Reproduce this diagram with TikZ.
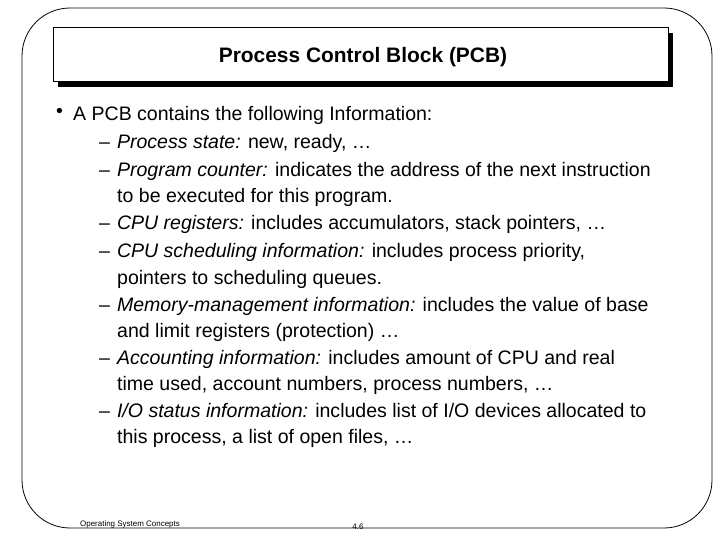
\documentclass[tikz,border=0pt]{standalone}
\usepackage{fontspec}
\setmainfont{Liberation Sans}
\begin{document}
\begin{tikzpicture}[x=1bp,y=-1bp,
  txt/.style={anchor=west,inner sep=0pt,font=\fontsize{19.6}{22}\selectfont},
  foot/.style={anchor=center,inner sep=0pt,font=\fontsize{8}{9}\selectfont}]
\useasboundingbox (0,0) rectangle (720,540);
\draw[line width=0.8bp,rounded corners=48bp] (22,8) rectangle (712,528);
\fill[black] (58,33) rectangle (673,87);
\draw[fill=white,line width=0.8bp] (53,27) rectangle (668,81);
\node[inner sep=0pt,font=\bfseries\fontsize{21}{24}\selectfont] (title) at (363,57) {Process Control Block (PCB)};
\node[txt] (b0) at (56,113) {\textbullet};
\node[txt] (l0) at (73,115) {A PCB contains the following Information:};
\foreach \y/\t [count=\i] in {
 143/{\textendash\hspace{7bp}\textit{Process state:} new, ready, \dots},
 171/{\textendash\hspace{7bp}\textit{Program counter:} indicates the address of the next instruction},
 224/{\textendash\hspace{7bp}\textit{CPU registers:} includes accumulators, stack pointers, \dots},
 252/{\textendash\hspace{7bp}\textit{CPU scheduling information:} includes process priority,},
 306/{\textendash\hspace{7bp}\textit{Memory-management information:} includes the value of base},
 359/{\textendash\hspace{7bp}\textit{Accounting information:} includes amount of CPU and real},
 411/{\textendash\hspace{7bp}\textit{I/O status information:} includes list of I/O devices allocated to}}
 \node[txt] (d\i) at (99,\y) {\t};
\foreach \y/\t [count=\i] in {
 197/{to be executed for this program.},
 279/{pointers to scheduling queues.},
 332/{and limit registers (protection) \dots},
 385/{time used, account numbers, process numbers, \dots},
 438/{this process, a list of open files, \dots}}
 \node[txt] (c\i) at (117,\y) {\t};
\node[foot] (f1) at (130,524) {Operating System Concepts};
\node[foot] (f2) at (358,527) {4.6};
\end{tikzpicture}
\end{document}
